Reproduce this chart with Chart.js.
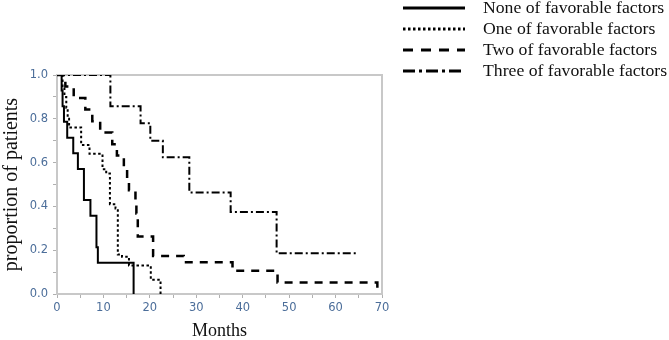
<!DOCTYPE html>
<html>
<head>
<meta charset="utf-8">
<script src="https://cdn.jsdelivr.net/npm/chart.js@4.4.1/dist/chart.umd.min.js"></script>
<style>
  body { margin: 0; background: #fff; }
  #wrap { width: 669px; height: 340px; }
</style>
</head>
<body>
<div id="wrap"><canvas id="km" width="669" height="340"></canvas></div>
<script>
// survival steps (months, proportion after the drop)
const noneMonths = [0, 1.0, 1.2, 1.5, 2.2, 3.5, 4.5, 5.8, 7.2, 8.5, 8.8, 16.5];
const noneValues = [1, 0.929, 0.857, 0.786, 0.714, 0.643, 0.571, 0.429, 0.357, 0.214, 0.143, 0];

const oneMonths = [0, 1.2, 1.6, 2.0, 2.3, 2.6, 5.2, 7.0, 9.8, 10.6, 11.4, 12.6, 13.1, 14.0, 15.5, 20.2, 22.3];
const oneValues = [1, 0.95, 0.9, 0.85, 0.8, 0.76, 0.68, 0.64, 0.57, 0.55, 0.41, 0.39, 0.18, 0.17, 0.13, 0.065, 0];

const twoMonths = [0, 1.8, 3.6, 6.1, 7.6, 9.3, 11.9, 12.9, 14.4, 15.1, 15.5, 16.9, 17.1, 17.4, 20.7, 27.3, 37.8, 47.5, 69];
const twoValues = [1, 0.947, 0.895, 0.842, 0.789, 0.737, 0.684, 0.632, 0.579, 0.526, 0.474, 0.421, 0.368, 0.263, 0.174, 0.145, 0.106, 0.053, 0];

const threeMonths = [0, 11.5, 18.0, 20.1, 22.8, 28.5, 37.4, 47.3, 64.6];
const threeValues = [1, 0.857, 0.78, 0.70, 0.624, 0.464, 0.374, 0.186, 0.186];

const seriesNames = ['None of favorable factors', 'One of favorable factors', 'Two of favorable factors', 'Three of favorable factors'];

const xTicks = [0, 10, 20, 30, 40, 50, 60, 70];
const yTicks = [0, 0.2, 0.4, 0.6, 0.8, 1.0];

const pts = (ms, vs) => ms.map((m, i) => ({x: m, y: vs[i]}));

// grey box around the plot area
const plotBorder = {
  id: 'plotBorder',
  beforeDatasetsDraw(chart) {
    const {ctx, chartArea: a} = chart;
    ctx.save();
    ctx.strokeStyle = '#c8c8c8';
    ctx.lineWidth = 2;
    ctx.strokeRect(a.left, a.top, a.right - a.left, a.bottom - a.top);
    ctx.restore();
  }
};

// legend up in the top right corner, line sample then label
const sideLegend = {
  id: 'sideLegend',
  afterDraw(chart) {
    const ctx = chart.ctx;
    const rows = [8, 29, 50, 71];
    ctx.save();
    chart.data.datasets.forEach((ds, i) => {
      const y = rows[i];
      ctx.beginPath();
      ctx.setLineDash(ds.legendDash);
      ctx.lineWidth = 3;
      ctx.strokeStyle = '#000';
      ctx.moveTo(403, y);
      ctx.lineTo(465, y);
      ctx.stroke();
      ctx.setLineDash([]);
      ctx.fillStyle = '#111';
      ctx.font = '17.7px "Liberation Serif", "Times New Roman", serif';
      ctx.textBaseline = 'middle';
      ctx.fillText(ds.label, 483, y);
    });
    ctx.restore();
  }
};

const tickColor = '#4c6e9a';
const tickFont = {family: '"DejaVu Sans", Verdana, sans-serif', size: 11.5};

new Chart(document.getElementById('km'), {
  type: 'line',
  data: {
    datasets: [
      {label: seriesNames[0], data: pts(noneMonths, noneValues), borderDash: [], legendDash: [], borderWidth: 2},
      {label: seriesNames[1], data: pts(oneMonths, oneValues), borderDash: [2.5, 2.5], legendDash: [2.5, 2.5], borderWidth: 2},
      {label: seriesNames[2], data: pts(twoMonths, twoValues), borderDash: [8, 7], legendDash: [10, 8], borderWidth: 2.5},
      {label: seriesNames[3], data: pts(threeMonths, threeValues), borderDash: [8, 3, 2, 3], legendDash: [12, 4, 3, 4], borderWidth: 2}
    ].map(ds => Object.assign(ds, {borderColor: '#000', stepped: 'before', pointRadius: 0, fill: false, tension: 0}))
  },
  options: {
    responsive: false,
    animation: false,
    layout: {padding: {left: 0, top: 75, right: 287, bottom: 0}},
    plugins: {legend: {display: false}, tooltip: {enabled: false}},
    scales: {
      x: {
        type: 'linear',
        min: 0, max: 70,
        afterFit: s => { s.height = 46; },
        border: {display: false},
        grid: {drawOnChartArea: false, tickLength: 4, tickColor: '#b0b0b0', tickWidth: 1},
        ticks: {
          stepSize: 5, padding: 3, color: tickColor, font: tickFont, maxRotation: 0,
          callback: v => xTicks.includes(v) ? String(v) : ''
        },
        title: {display: true, text: 'Months', color: '#111', padding: 0,
          font: {family: '"Liberation Serif", "Times New Roman", serif', size: 18, lineHeight: 1}}
      },
      y: {
        min: 0, max: 1,
        afterFit: s => { s.width = 57; },
        border: {display: false},
        grid: {drawOnChartArea: false, tickLength: 4, tickColor: '#b0b0b0', tickWidth: 1},
        ticks: {
          stepSize: 0.1, padding: 5, color: tickColor, font: tickFont,
          callback: v => {
            const r = Math.round(v * 10) / 10;
            return yTicks.some(t => Math.abs(t - r) < 1e-9) ? r.toFixed(1) : '';
          }
        },
        title: {display: true, text: 'proportion of patients', color: '#111', padding: 0,
          font: {family: '"Liberation Serif", "Times New Roman", serif', size: 20}}
      }
    }
  },
  plugins: [plotBorder, sideLegend]
});
</script>
</body>
</html>
